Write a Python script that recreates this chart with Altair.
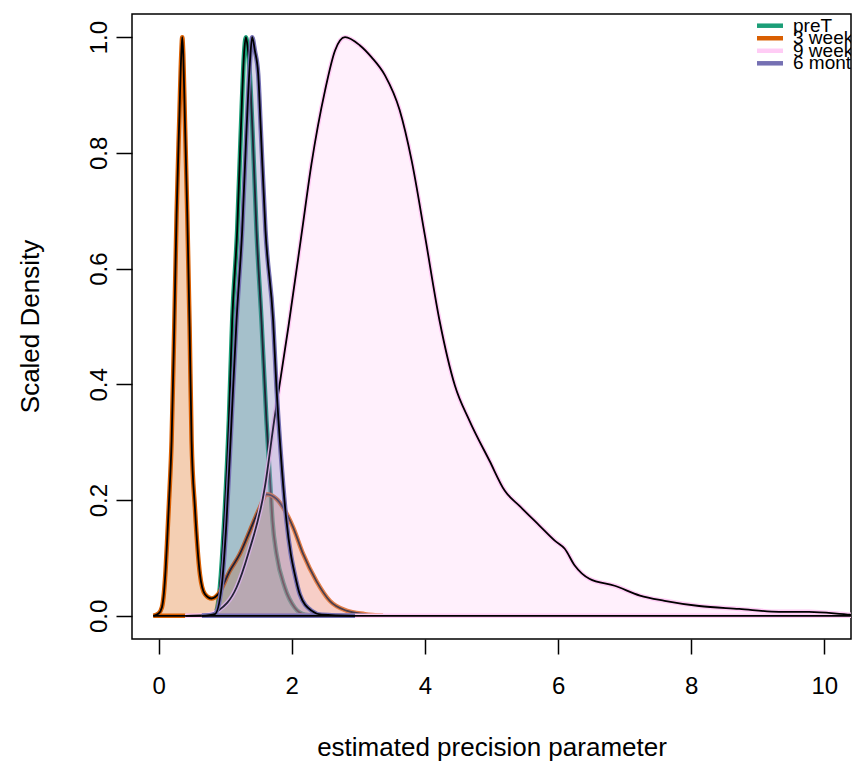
import altair as alt
import pandas as pd

SERIES = ["preT", "3 weeks", "9 weeks", "6 months"]
COLORS = ["#1B9E77", "#D95F02", "#FFCCF5", "#7570B3"]

PRET_X = [0.70, 0.845, 0.92, 0.985, 1.055, 1.105, 1.18, 1.235, 1.285, 1.31, 1.335, 1.36, 1.41, 1.47,
          1.545, 1.62, 1.68, 1.71, 1.77, 1.895, 2.045, 2.2, 2.4]
PRET_Y = [0.0, 0.003, 0.049, 0.164, 0.337, 0.51, 0.666, 0.839, 0.975, 1.0, 0.985, 0.954, 0.839, 0.666,
          0.51, 0.337, 0.222, 0.164, 0.107, 0.049, 0.014, 0.002, 0.0]

WK3_X = [-0.08, 0.0, 0.05, 0.08, 0.105, 0.13, 0.155, 0.195, 0.235, 0.27, 0.31, 0.34, 0.355, 0.37,
         0.395, 0.43, 0.465, 0.495, 0.545, 0.62, 0.695, 0.795, 0.895, 1.07, 1.22, 1.37, 1.52, 1.62,
         1.77, 1.87, 2.02, 2.17, 2.37, 2.57, 2.82, 3.1, 3.37]
WK3_Y = [0.0, 0.004, 0.015, 0.04, 0.08, 0.135, 0.195, 0.303, 0.5, 0.695, 0.856, 0.97, 1.0, 0.97,
         0.856, 0.695, 0.5, 0.303, 0.187, 0.072, 0.0375, 0.03, 0.0375, 0.078, 0.107, 0.147, 0.187, 0.21,
         0.202, 0.187, 0.153, 0.107, 0.06, 0.026, 0.009, 0.003, 0.0]

WK9_X = [0.40, 0.70, 0.895, 1.17, 1.345, 1.595, 1.735, 1.95, 2.155, 2.296, 2.5, 2.65, 2.8, 3.02,
         3.2, 3.4, 3.62, 3.8, 4.0, 4.22, 4.45, 4.67, 4.97, 5.2, 5.42, 5.72, 5.95, 6.1, 6.25, 6.47,
         6.85, 7.23, 7.6, 8.12, 8.72, 9.32, 9.77, 10.4, 10.6]
WK9_Y = [0.0, 0.001, 0.009, 0.049, 0.107, 0.222, 0.337, 0.5, 0.666, 0.781, 0.908, 0.977, 1.0, 0.986,
         0.965, 0.934, 0.874, 0.787, 0.657, 0.51, 0.398, 0.337, 0.268, 0.216, 0.19, 0.156, 0.13, 0.116, 0.087, 0.064,
         0.052, 0.035, 0.026, 0.017, 0.012, 0.007, 0.007, 0.002, 0.001]

MO6_X = [0.65, 0.845, 0.945, 1.02, 1.095, 1.17, 1.255, 1.32, 1.37, 1.405, 1.445, 1.495, 1.535, 1.605,
         1.72, 1.77, 1.835, 1.92, 1.985, 2.045, 2.12, 2.296, 2.45, 2.95]
MO6_Y = [0.0, 0.003, 0.049, 0.164, 0.337, 0.51, 0.666, 0.839, 0.954, 1.0, 0.977, 0.937, 0.839, 0.666,
         0.51, 0.395, 0.28, 0.164, 0.107, 0.072, 0.0375, 0.009, 0.002, 0.0]

X_TICKS = [0, 2, 4, 6, 8, 10]
Y_TICKS = [0.0, 0.2, 0.4, 0.6, 0.8, 1.0]

series_xy = {"preT": (PRET_X, PRET_Y), "3 weeks": (WK3_X, WK3_Y),
             "9 weeks": (WK9_X, WK9_Y), "6 months": (MO6_X, MO6_Y)}

FONT = "Liberation Sans"
xscale = alt.Scale(domain=[-0.4, 10.4], nice=False, zero=False)
yscale = alt.Scale(domain=[-0.04, 1.04], nice=False, zero=False)
cscale = alt.Scale(domain=SERIES, range=COLORS)

xaxis = alt.Axis(values=X_TICKS, format="d", title="estimated precision parameter",
                 grid=False, domain=False, tickColor="black", tickWidth=1.5, tickSize=15,
                 labelFont=FONT, labelFontSize=24, labelColor="black", labelPadding=20,
                 labelBaseline="top",
                 titleFont=FONT, titleFontSize=26, titleFontWeight="normal", titleColor="black",
                 titleBaseline="alphabetic", titleY=116)
yaxis = alt.Axis(values=Y_TICKS, format=".1f", title="Scaled Density",
                 grid=False, domain=False, tickColor="black", tickWidth=1.5, tickSize=16,
                 labelFont=FONT, labelFontSize=24, labelColor="black", labelPadding=10,
                 labelAngle=270, labelAlign="center", labelBaseline="alphabetic",
                 titleFont=FONT, titleFontSize=26, titleFontWeight="normal", titleColor="black",
                 titleAngle=270, titleBaseline="alphabetic", titleX=-94, titleY=312)

X = alt.X("x:Q", scale=xscale, axis=xaxis)
Y = alt.Y("y:Q", scale=yscale, axis=yaxis)
C = alt.Color("series:N", scale=cscale, legend=None)
XMIN = alt.X("min(x):Q", scale=xscale, axis=xaxis)
Y0 = alt.Y(datum=0, scale=yscale, axis=yaxis)

layers = []
for name in SERIES:
    xs, ys = series_xy[name]
    d = pd.DataFrame({"x": xs, "y": ys, "series": name, "i": range(len(xs))})
    base = alt.Chart(d)
    area = base.mark_area(opacity=0.3, interpolate="monotone", clip=True).encode(x=X, y=Y, color=C)
    base_col = base.mark_rule(strokeWidth=4.5, clip=True).encode(x=XMIN, x2="max(x):Q", y=Y0, color=C)
    line_col = base.mark_line(strokeWidth=4.5, interpolate="monotone", clip=True).encode(
        x=X, y=Y, color=C, order="i:Q")
    base_blk = base.mark_rule(strokeWidth=1.8, clip=True, color="black").encode(
        x=XMIN, x2="max(x):Q", y=Y0)
    line_blk = base.mark_line(strokeWidth=1.8, interpolate="monotone", clip=True, color="black").encode(
        x=X, y=Y, order="i:Q")
    layers += [area, base_col, line_col, base_blk, line_blk]

density = alt.layer(*layers)

leg = pd.DataFrame({"series": SERIES, "idx": list(range(len(SERIES)))})
ly = alt.Y("idx:Q", scale=alt.Scale(domain=[0, 3], range=[11.7, 49.3]), axis=None)
leg_lines = alt.Chart(leg).mark_rule(strokeWidth=4.5).encode(
    x=alt.value(625), x2=alt.value(651), y=ly,
    color=alt.Color("series:N", scale=cscale, legend=None))
leg_text = alt.Chart(leg).mark_text(align="left", baseline="middle", font=FONT, fontSize=19,
                                    color="black", clip=True).encode(
    x=alt.value(661), y=ly, text="series:N")
legend = alt.layer(leg_lines, leg_text)

chart = alt.layer(density, legend).resolve_scale(y="independent", color="shared").properties(
    width=719, height=625,
    autosize=alt.AutoSizeParams(type="none"),
    padding={"left": 132, "top": 14, "right": 2, "bottom": 124},
).configure(background="white").configure_view(stroke="black", strokeWidth=1.5)

chart.save("out.html", embed_options={"renderer": "svg", "actions": False})
